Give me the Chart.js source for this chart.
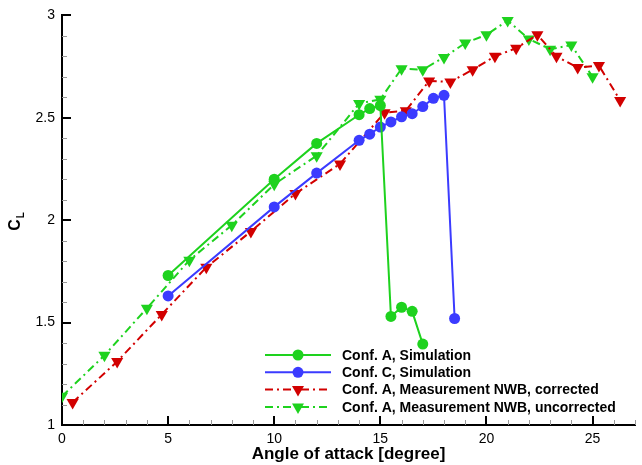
<!DOCTYPE html>
<html>

<head>
    <meta charset="utf-8">
    <script src="https://cdn.jsdelivr.net/npm/chart.js"></script>
    <title>CL over angle of attack</title>
    <style>
        html, body {
            margin: 0;
            padding: 0;
            background: #fff;
        }

        #wrap {
            width: 642px;
            height: 465px;
            position: relative;
        }
    </style>
</head>

<body>
    <div id="wrap">
        <canvas id="chart"></canvas>
    </div>
    <script>
        // values
        const confASimAlpha = [5, 10, 12, 14, 14.5, 15, 15.5, 16, 16.5, 17]
        const confASimCL = [1.73, 2.20, 2.375, 2.515, 2.545, 2.56, 1.53, 1.575, 1.555, 1.395]

        const confCSimAlpha = [5, 10, 12, 14, 14.5, 15, 15.5, 16, 16.5, 17, 17.5, 18, 18.5]
        const confCSimCL = [1.63, 2.065, 2.23, 2.39, 2.42, 2.455, 2.48, 2.505, 2.52, 2.555, 2.595, 2.61, 1.52]

        const measCorrAlpha = [0.5, 2.6, 4.7, 6.8, 8.9, 11.0, 13.1, 15.2, 16.2, 17.3, 18.3, 19.35, 20.4, 21.4, 22.4, 23.3, 24.3, 25.3, 26.3]
        const measCorrCL = [1.11, 1.31, 1.54, 1.77, 1.945, 2.13, 2.275, 2.525, 2.535, 2.68, 2.675, 2.735, 2.80, 2.84, 2.905, 2.80, 2.745, 2.755, 2.585]

        const measUncorrAlpha = [0, 2, 4, 6, 8, 10, 12, 14, 15, 16, 17, 18, 19, 20, 21, 22, 23, 24, 25]
        const measUncorrCL = [1.14, 1.34, 1.57, 1.805, 1.975, 2.175, 2.315, 2.57, 2.59, 2.74, 2.735, 2.795, 2.865, 2.905, 2.975, 2.885, 2.835, 2.855, 2.70]

        const seriesLabels = [
            'Conf. A, Simulation',
            'Conf. C, Simulation',
            'Conf. A, Measurement NWB, corrected',
            'Conf. A, Measurement NWB, uncorrected'
        ]

        const xTicks = [0, 5, 10, 15, 20, 25]
        const yTicks = [1, 1.5, 2, 2.5, 3]

        const FONT = '"Liberation Sans", Arial, Helvetica, sans-serif'
        const GREEN = '#1ed21e'
        const BLUE = '#3b3bff'
        const RED = '#d20000'
        const DASHDOT = [8, 4, 2, 4]

        function pts(xs, ys) {
            return xs.map(function (x, i) {
                return { x: x, y: ys[i] }
            })
        }

        function circleSet(label, xs, ys, color) {
            return {
                label: label,
                data: pts(xs, ys),
                borderColor: color,
                backgroundColor: color,
                borderWidth: 2,
                pointStyle: 'circle',
                pointRadius: 5.5,
                pointBorderWidth: 0,
                pointBackgroundColor: color,
                tension: 0
            }
        }

        function triangleSet(label, xs, ys, color) {
            return {
                label: label,
                data: pts(xs, ys),
                borderColor: color,
                backgroundColor: color,
                borderWidth: 2,
                borderDash: DASHDOT,
                pointStyle: 'triangle',
                rotation: 180,
                pointRotation: 180,
                pointRadius: 7,
                pointBorderWidth: 0,
                pointBackgroundColor: color,
                tension: 0
            }
        }

        // inward major/minor ticks in the tecplot style
        const innerTicks = {
            id: 'innerTicks',
            beforeDatasetsDraw: function (chart) {
                const ctx = chart.ctx
                const xs = chart.scales.x
                const ys = chart.scales.y
                const area = chart.chartArea
                ctx.save()
                // minor
                ctx.strokeStyle = '#999'
                ctx.lineWidth = 1
                ctx.beginPath()
                for (let v = 0; v <= 27; v++) {
                    if (v % 5 === 0) continue
                    const px = Math.round(xs.getPixelForValue(v)) + 0.5
                    ctx.moveTo(px, area.bottom)
                    ctx.lineTo(px, area.bottom - 5)
                }
                for (let i = 10; i <= 30; i++) {
                    if (i % 5 === 0) continue
                    const py = Math.round(ys.getPixelForValue(i / 10)) + 0.5
                    ctx.moveTo(area.left, py)
                    ctx.lineTo(area.left + 5, py)
                }
                ctx.stroke()
                // major
                ctx.strokeStyle = '#000'
                ctx.lineWidth = 2
                ctx.beginPath()
                xTicks.forEach(function (v) {
                    const px = Math.round(xs.getPixelForValue(v))
                    ctx.moveTo(px, area.bottom)
                    ctx.lineTo(px, area.bottom - 9)
                })
                yTicks.forEach(function (v) {
                    const py = Math.round(ys.getPixelForValue(v))
                    ctx.moveTo(area.left, py)
                    ctx.lineTo(area.left + 9, py)
                })
                ctx.stroke()
                ctx.restore()
            }
        }

        // legend inside the plot, lower right, and the C_L axis title
        const extras = {
            id: 'extras',
            afterDraw: function (chart) {
                const ctx = chart.ctx
                const area = chart.chartArea
                ctx.save()

                const x0 = area.left + 203
                const x1 = area.left + 269
                const tx = area.left + 280
                let y = area.bottom - 70
                chart.data.datasets.forEach(function (ds) {
                    ctx.strokeStyle = ds.borderColor
                    ctx.lineWidth = 2
                    ctx.setLineDash(ds.borderDash || [])
                    ctx.beginPath()
                    ctx.moveTo(x0, y)
                    ctx.lineTo(x1, y)
                    ctx.stroke()
                    ctx.setLineDash([])
                    ctx.fillStyle = ds.borderColor
                    ctx.beginPath()
                    const mx = (x0 + x1) / 2
                    if (ds.pointStyle === 'circle') {
                        ctx.arc(mx, y, 5.5, 0, Math.PI * 2)
                    } else {
                        ctx.moveTo(mx - 6, y - 3.5)
                        ctx.lineTo(mx + 6, y - 3.5)
                        ctx.lineTo(mx, y + 7)
                        ctx.closePath()
                    }
                    ctx.fill()
                    ctx.fillStyle = '#000'
                    ctx.font = 'bold 14px ' + FONT
                    ctx.textAlign = 'left'
                    ctx.textBaseline = 'middle'
                    ctx.fillText(ds.label, tx, y + 1)
                    y += 17.3
                })

                // C with subscript L, rotated
                ctx.translate(20, 222)
                ctx.rotate(-Math.PI / 2)
                ctx.fillStyle = '#000'
                ctx.textBaseline = 'alphabetic'
                ctx.textAlign = 'left'
                ctx.font = 'bold 16px ' + FONT
                const cw = ctx.measureText('C').width
                ctx.fillText('C', -cw / 2 - 3, 0)
                ctx.font = 'bold 10px ' + FONT
                ctx.fillText('L', cw / 2 - 2, 4)
                ctx.restore()
            }
        }

        new Chart(document.getElementById('chart'), {
            type: 'line',
            data: {
                datasets: [
                    circleSet(seriesLabels[0], confASimAlpha, confASimCL, GREEN),
                    circleSet(seriesLabels[1], confCSimAlpha, confCSimCL, BLUE),
                    triangleSet(seriesLabels[2], measCorrAlpha, measCorrCL, RED),
                    triangleSet(seriesLabels[3], measUncorrAlpha, measUncorrCL, GREEN)
                ]
            },
            options: {
                responsive: true,
                maintainAspectRatio: false,
                animation: false,
                layout: {
                    padding: { top: 15, right: 0, left: 0, bottom: 0 }
                },
                plugins: {
                    legend: { display: false },
                    tooltip: { enabled: false }
                },
                scales: {
                    x: {
                        type: 'linear',
                        min: 0,
                        max: 27,
                        afterBuildTicks: function (s) {
                            s.ticks = xTicks.map(function (v) { return { value: v } })
                        },
                        afterFit: function (s) {
                            s.height = 40
                        },
                        grid: { display: false, drawTicks: false },
                        border: { display: true, color: '#000', width: 2 },
                        ticks: {
                            color: '#000',
                            padding: 6,
                            maxRotation: 0,
                            font: { family: FONT, size: 14 },
                            callback: function (v) { return String(v) }
                        },
                        title: {
                            display: true,
                            text: 'Angle of attack [degree]',
                            color: '#000',
                            padding: { top: 0, bottom: 0 },
                            font: { family: FONT, size: 17, weight: 'bold' }
                        }
                    },
                    y: {
                        type: 'linear',
                        min: 1,
                        max: 3,
                        afterBuildTicks: function (s) {
                            s.ticks = yTicks.map(function (v) { return { value: v } })
                        },
                        afterFit: function (s) {
                            s.width = 62
                        },
                        grid: { display: false, drawTicks: false },
                        border: { display: true, color: '#000', width: 2 },
                        ticks: {
                            color: '#000',
                            padding: 7,
                            font: { family: FONT, size: 14 },
                            callback: function (v) { return String(v) }
                        }
                    }
                }
            },
            plugins: [innerTicks, extras]
        })
    </script>
</body>

</html>
